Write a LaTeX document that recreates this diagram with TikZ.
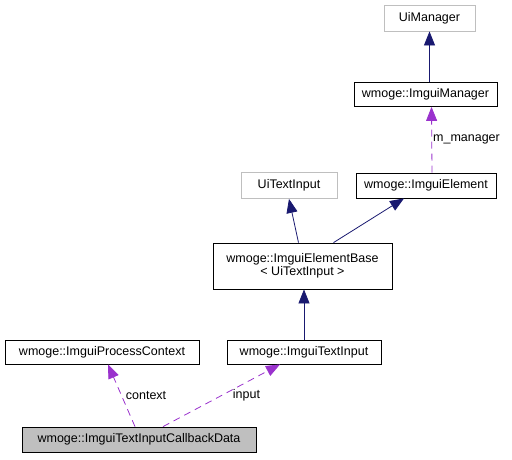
\documentclass[tikz,border=0pt]{standalone}
\usepackage{fontspec}
\setmainfont{Liberation Sans}
\usetikzlibrary{arrows.meta}

\definecolor{inhblue}{HTML}{191970}
\definecolor{usepurple}{HTML}{9A32CD}
\definecolor{extgray}{HTML}{BFBFBF}

\begin{document}
\begin{tikzpicture}[x=1pt, y=-1pt, font=\fontsize{12.5}{14}\selectfont, align=center]
	\tikzset{
		cls/.style={draw=black, thick, minimum height=24pt, inner sep=2pt},
		extcls/.style={draw=extgray, thick, minimum height=26pt, inner sep=2pt},
		inherit/.style={draw=inhblue, thick, -{Triangle[length=14pt, width=11pt]}},
		uses/.style={draw=usepurple, thick, dashed, dash pattern=on 7pt off 5pt,
			-{Triangle[length=14pt, width=11pt, fill=usepurple]}},
		lbl/.style={inner sep=1pt}
	}
	\useasboundingbox (0, 0) rectangle (512, 459);

	% 1. upper classes
	\node[extcls, minimum width=91pt] (uimanager) at (429.5, 18) {UiManager};
	\node[cls, minimum width=143pt] (imguimanager) at (425.5, 94.5) {wmoge::ImguiManager};
	\node[extcls, minimum width=96pt] (uitextinput) at (289, 185.5) {UiTextInput};
	\node[cls, minimum width=140pt, minimum height=25pt] (imguielement) at (426, 185.5) {wmoge::ImguiElement};

	% 2. template base
	\node[cls, minimum width=179pt, minimum height=46pt] (elementbase) at (302.5, 266) {wmoge::ImguiElementBase\\[-1pt]\textless{} UiTextInput \textgreater{}};

	% 3. lower classes
	\node[cls, minimum width=194pt] (processcontext) at (102, 352) {wmoge::ImguiProcessContext};
	\node[cls, minimum width=154pt] (textinput) at (304, 352) {wmoge::ImguiTextInput};
	\node[cls, fill=extgray, minimum width=234pt, minimum height=25pt] (callbackdata) at (139, 439.5) {wmoge::ImguiTextInputCallbackData};

	% inheritance
	\draw[inherit] (imguimanager.north -| uimanager.south) -- (uimanager.south);
	\draw[inherit] ([xshift=-4pt]elementbase.north) -- (uitextinput.south);
	\draw[inherit] ([xshift=31pt]elementbase.north) -- ([xshift=-22pt]imguielement.south);
	\draw[inherit] (textinput.north) -- (textinput.north |- elementbase.south);

	% usage
	\draw[uses] ([xshift=6pt]imguielement.north) -- ([xshift=6pt]imguimanager.south)
		node[lbl, pos=0.5, right] {m\_manager};
	\draw[uses] ([xshift=-4pt]callbackdata.north) -- ([xshift=6pt]processcontext.south)
		node[lbl, pos=0.5, right=3pt] {context};
	\draw[uses] ([xshift=24pt]callbackdata.north) -- ([xshift=-24pt]textinput.south)
		node[lbl, pos=0.5, right=10pt] {input};
\end{tikzpicture}
\end{document}
